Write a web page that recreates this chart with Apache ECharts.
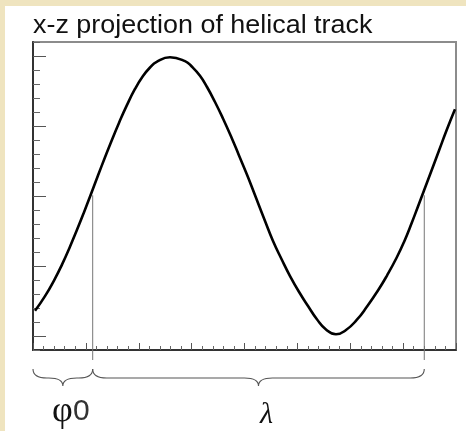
<!DOCTYPE html>
<html>
<head>
<meta charset="utf-8">
<script src="https://cdn.jsdelivr.net/npm/echarts@6/dist/echarts.min.js"></script>
<style>
  html, body { margin: 0; padding: 0; background: #EFE4BF; }
  #sheet { position: absolute; left: 5px; top: 6px; width: 461px; height: 425px; background: #ffffff; }
  #chart { position: absolute; left: 0; top: 0; width: 466px; height: 431px; }
</style>
</head>
<body>
<div id="sheet"></div>
<div id="chart"></div>
<script>
// Helical track projected on the x-z plane (arbitrary units)
const trackX = [0.038, 0.227, 0.416, 0.548, 0.699, 0.832, 0.965, 1.097, 1.229, 1.362, 1.494, 1.626, 1.772, 1.929, 2.080, 2.213, 2.339, 2.591,
                2.875, 3.007, 3.158, 3.291, 3.442, 3.593, 3.758, 3.896, 4.042, 4.161, 4.274, 4.388, 4.539, 4.704, 4.861, 5.050, 5.201, 5.366, 5.541, 5.730,
                5.920, 6.122, 6.317, 6.530, 6.695, 6.879, 7.017, 7.162, 7.281, 7.395, 7.541, 7.679, 7.824, 7.981];
const trackZ = [0.361, 0.569, 0.820, 1.020, 1.276, 1.517, 1.769, 2.029, 2.293, 2.553, 2.804, 3.044, 3.291, 3.529, 3.714, 3.836, 3.917, 3.983,
                3.926, 3.846, 3.717, 3.557, 3.343, 3.107, 2.829, 2.579, 2.314, 2.086, 1.864, 1.643, 1.357, 1.093, 0.857, 0.607, 0.429, 0.243, 0.093, 0.024,
                0.086, 0.229, 0.421, 0.657, 0.864, 1.121, 1.343, 1.614, 1.850, 2.079, 2.371, 2.650, 2.943, 3.239];

// Phase markers: start phase φ0 and one full period λ later
const markerX = [1.129, 7.400];
const markerZ = [2.01, 2.01];

// Brace spans below the axis and their labels
const braceFrom = [0, 1.129];
const braceTo = [1.129, 7.400];
const braceLabels = ['{p|φ}{s|0}', '{l|λ}'];

// Axis ranges and ticks
const xRange = [0, 8];
const zRange = [-0.2, 4.2];
const zMajorTicks = [0, 1, 2, 3, 4];
const zMinorTicks = [-0.2, 0.2, 0.4, 0.6, 0.8, 1.2, 1.4, 1.6, 1.8, 2.2, 2.4, 2.6, 2.8, 3.2, 3.4, 3.6, 3.8, 4.2];

const titleText = 'x-z projection of helical track';

const trackData = trackX.map((x, i) => [x, trackZ[i]]);
const markerData = markerX.map((x, i) => [x, markerZ[i]]);
const braceData = braceFrom.map((x, i) => [x, braceTo[i], zRange[0]]);

const chart = echarts.init(document.getElementById('chart'), null, { renderer: 'canvas' });

function bracePath(x0, x1, y, r) {
  const yEnd = y + 19, yBar = y + 28, yTip = y + 36;
  const xm = (x0 + x1) / 2;
  return [
    'M', x0, yEnd,
    'Q', x0, yBar, x0 + r, yBar,
    'L', xm - r, yBar,
    'Q', xm, yBar, xm, yTip,
    'Q', xm, yBar, xm + r, yBar,
    'L', x1 - r, yBar,
    'Q', x1, yBar, x1, yEnd
  ].join(' ');
}

chart.setOption({
  animation: false,
  backgroundColor: 'transparent',
  graphic: [
    {
      type: 'text',
      x: 33,
      y: 26,
      scaleX: 1.076,
      style: {
        text: titleText,
        font: '25px "Liberation Sans", Arial, sans-serif',
        fill: '#111',
        verticalAlign: 'middle',
        align: 'left'
      }
    }
  ],
  grid: {
    left: 33, top: 42, width: 423, height: 308,
    show: true, borderColor: '#8c8c8c', borderWidth: 2, backgroundColor: 'transparent'
  },
  xAxis: {
    type: 'value', min: xRange[0], max: xRange[1], interval: 1,
    axisLine: { show: true, onZero: false, lineStyle: { color: '#333', width: 2 } },
    axisTick: { show: true, inside: true, length: 7, lineStyle: { color: '#555', width: 1 } },
    minorTick: { show: true, splitNumber: 5, length: 4, lineStyle: { color: '#666', width: 1 } },
    axisLabel: { show: false },
    splitLine: { show: false }
  },
  yAxis: [
    {
      type: 'value', min: zRange[0], max: zRange[1], position: 'left',
      axisLine: { show: true, onZero: false, lineStyle: { color: '#333', width: 2 } },
      axisTick: { show: true, inside: true, length: 13, customValues: zMajorTicks, lineStyle: { color: '#555', width: 1 } },
      axisLabel: { show: false },
      splitLine: { show: false }
    },
    {
      type: 'value', min: zRange[0], max: zRange[1], position: 'left', offset: 0,
      axisLine: { show: false, onZero: false },
      axisTick: { show: true, inside: true, length: 7, customValues: zMinorTicks, lineStyle: { color: '#666', width: 1 } },
      axisLabel: { show: false },
      splitLine: { show: false }
    }
  ],
  series: [
    {
      name: 'track',
      type: 'line',
      data: trackData,
      smooth: true,
      showSymbol: false,
      lineStyle: { color: '#000', width: 2.6 },
      z: 5
    },
    {
      name: 'phase markers',
      type: 'custom',
      coordinateSystem: 'cartesian2d',
      clip: false,
      data: markerData,
      encode: { x: 0, y: 1 },
      renderItem: function (params, api) {
        const top = api.coord([api.value(0), api.value(1)]);
        const base = api.coord([api.value(0), zRange[0]]);
        return {
          type: 'line',
          shape: { x1: top[0], y1: top[1], x2: base[0], y2: base[1] + 10 },
          style: { stroke: '#777', lineWidth: 1 }
        };
      },
      z: 3
    },
    {
      name: 'braces',
      type: 'custom',
      coordinateSystem: 'cartesian2d',
      clip: false,
      data: braceData,
      encode: { x: [0, 1], y: 2 },
      renderItem: function (params, api) {
        const a = api.coord([api.value(0), api.value(2)]);
        const b = api.coord([api.value(1), api.value(2)]);
        const r = Math.min(14, (b[0] - a[0]) / 4);
        const xm = (a[0] + b[0]) / 2;
        return {
          type: 'group',
          children: [
            {
              type: 'path',
              shape: { pathData: bracePath(a[0], b[0], a[1], r) },
              style: { fill: 'none', stroke: '#555', lineWidth: 1.1 }
            },
            {
              type: 'text',
              style: {
                text: braceLabels[params.dataIndex],
                x: xm + 8,
                y: a[1] + 80,
                align: 'center',
                verticalAlign: 'bottom',
                rich: {
                  p: { fontFamily: 'Liberation Serif, DejaVu Serif, serif', fontSize: 36, fill: '#111' },
                  s: { fontFamily: 'Liberation Sans, Arial, sans-serif', fontSize: 30, fill: '#333' },
                  l: { fontFamily: 'Liberation Serif, DejaVu Serif, serif', fontStyle: 'italic', fontSize: 30, fill: '#111' }
                }
              }
            }
          ]
        };
      },
      z: 4
    }
  ]
});
</script>
</body>
</html>
